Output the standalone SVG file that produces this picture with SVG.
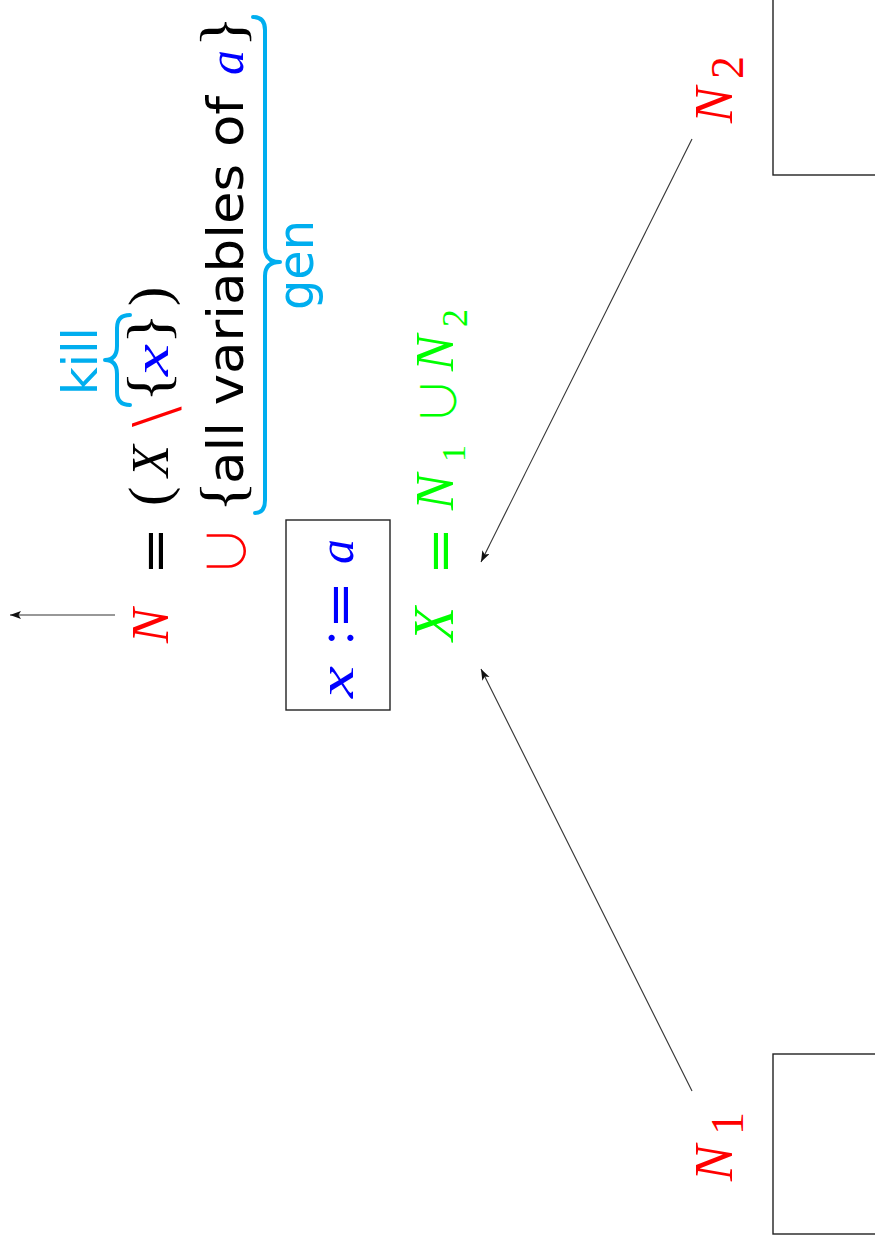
<svg xmlns="http://www.w3.org/2000/svg" width="875" height="1247" viewBox="0 0 875 1247">
<style>
.m{font-family:"Liberation Serif",serif;font-style:italic}
.r{font-family:"Liberation Serif",serif}
.s{font-family:"DejaVu Sans",sans-serif}
.eq{font-family:"DejaVu Sans",sans-serif}
.u{font-family:"Noto Sans CJK JP","DejaVu Sans",sans-serif;font-weight:300}
.red{fill:#ff0000}.blue{fill:#0000ff}.green{fill:#00ff00}.cyan{fill:#00aeef}.blk{fill:#000}
.brace{fill:none;stroke:#00aeef;stroke-width:4;stroke-linecap:round;stroke-linejoin:round}
.conn{fill:none;stroke:#333;stroke-width:1.1}
.box{fill:#fff;stroke:#222;stroke-width:1.4}
</style>
<defs>
<marker id="ah" markerUnits="userSpaceOnUse" markerWidth="12" markerHeight="10" refX="11" refY="4" orient="auto">
<path d="M0,0 L11,4 L0,8 L2.5,4 z" fill="#111"/>
</marker>
</defs>
<rect width="875" height="1247" fill="#fff"/>

<g id="connectors">
<line class="conn" x1="115" y1="615" x2="10" y2="615" marker-end="url(#ah)"/>
<line class="conn" x1="692" y1="139" x2="481" y2="562" marker-end="url(#ah)"/>
<line class="conn" x1="692" y1="1091" x2="481" y2="669" marker-end="url(#ah)"/>
</g>

<g id="block-top"><rect class="box" x="773" y="-10" width="120" height="185"/></g>
<g id="block-bottom"><rect class="box" x="773" y="1054" width="120" height="180"/></g>
<g id="assign-box"><rect class="box" x="286" y="520" width="104" height="190"/></g>

<g id="kill-brace"><path class="brace" d="M130,405 Q117,405 117,392 L117,374 Q117,360 105,360 Q117,360 117,346 L117,328 Q117,315 130,315"/></g>
<g id="gen-brace"><path class="brace" d="M255,513 Q265,513 265,500 L265,276 Q265,262 280,262 Q265,262 265,248 L265,30 Q265,17 253,17"/></g>

<g transform="translate(0,1247) rotate(-90)">
<g id="eq-N">
<text class="m red" x="604" y="168" font-size="52">N</text>
<text class="eq blk" x="672" y="172" font-size="50" textLength="48" lengthAdjust="spacingAndGlyphs">=</text>
<text class="r blk" x="741" y="168" font-size="58">(</text>
<text class="m blk" x="770" y="168" font-size="52">X</text>
<text class="r red" x="820" y="181" font-size="74">\</text>
<text class="r blk" x="845" y="168" font-size="60" textLength="31" lengthAdjust="spacingAndGlyphs">{</text>
<text class="m blue" x="871" y="168" font-size="50" textLength="32" lengthAdjust="spacingAndGlyphs">x</text>
<text class="r blk" x="903" y="168" font-size="60" textLength="31" lengthAdjust="spacingAndGlyphs">}</text>
<text class="r blk" x="941" y="168" font-size="58">)</text>
</g>
<g id="kill-label"><text class="s cyan" x="852" y="97" font-size="48" textLength="68" lengthAdjust="spacingAndGlyphs">kill</text></g>
<g id="eq-gen">
<text class="u red" x="670" y="246" font-size="52">∪</text>
<text class="r blk" x="735" y="243" font-size="62" textLength="31" lengthAdjust="spacingAndGlyphs">{</text>
<text class="s blk" x="763" y="243" font-size="50" textLength="388" lengthAdjust="spacingAndGlyphs">all variables of</text>
<text class="m blue" x="1172" y="243" font-size="50">a</text>
<text class="r blk" x="1200" y="243" font-size="62" textLength="31" lengthAdjust="spacingAndGlyphs">}</text>
</g>
<g id="gen-label"><text class="s cyan" x="937" y="313" font-size="50" textLength="90" lengthAdjust="spacingAndGlyphs">gen</text></g>
<g id="assign-text">
<text class="m blue" x="549" y="353" font-size="50" textLength="32" lengthAdjust="spacingAndGlyphs">x</text>
<text class="r blue" x="602" y="353" font-size="52">:</text>
<text class="eq blue" x="618" y="357" font-size="50" textLength="48" lengthAdjust="spacingAndGlyphs">=</text>
<text class="m blue" x="683" y="353" font-size="50">a</text>
</g>
<g id="eq-X">
<text class="m green" x="606" y="453" font-size="56">X</text>
<text class="eq green" x="672" y="457" font-size="50" textLength="48" lengthAdjust="spacingAndGlyphs">=</text>
<text class="m green" x="737" y="453" font-size="54">N</text>
<text class="r green" x="785" y="465" font-size="34">1</text>
<text class="u green" x="822" y="456" font-size="48">∪</text>
<text class="m green" x="876" y="453" font-size="54">N</text>
<text class="r green" x="920" y="467" font-size="36">2</text>
</g>
<g id="label-N2">
<text class="m red" x="1124" y="732" font-size="54">N</text>
<text class="r red" x="1168" y="743" font-size="46">2</text>
</g>
<g id="label-N1">
<text class="m red" x="66" y="732" font-size="54">N</text>
<text class="r red" x="112" y="743" font-size="46">1</text>
</g>
</g>
</svg>
